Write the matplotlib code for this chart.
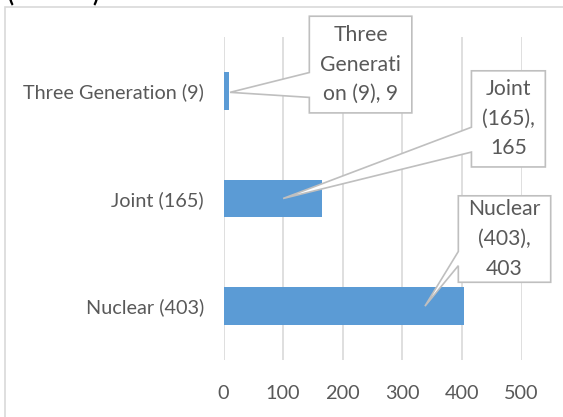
"""
Family type horizontal bar chart with callout labels
"""

import matplotlib
matplotlib.use("Agg")
import matplotlib.pyplot as plt
from matplotlib.patches import Polygon, Rectangle

# Data
categories = ['Nuclear (403)', 'Joint (165)', 'Three Generation (9)']
values = [403, 165, 9]
callout_labels = ['Nuclear\n(403),\n403', 'Joint\n(165),\n165', 'Three\nGenerati\non (9), 9']
x_ticks = [0, 100, 200, 300, 400, 500]

# Callout layout in data units: box (x0, x1, y0, y1), wedge base on left edge (yb, yt), tip (x, y)
callout_boxes = [(394, 549, 0.222, 1.025), (416, 540, 1.293, 2.186), (144, 316, 1.795, 2.693)]
callout_wedges = [(0.376, 0.508), (1.431, 1.662), (1.939, 2.170)]
callout_tips = [(338, 0.0), (100, 1.0), (11, 1.986)]

text_color = '#595959'
bar_color = '#5b9bd5'
grid_color = '#d9d9d9'
plt.rcParams['font.family'] = ['Lato', 'DejaVu Sans']

fig = plt.figure(figsize=(5.63, 4.17), dpi=100)
ax = fig.add_axes([223.5 / 563, 57 / 417, 298 / 563, 323 / 417])

# chart frame, runs off the right and bottom edges
fig.patches.append(Rectangle((4.5 / 563, -0.1), 1.2, 1 - 7 / 417 + 0.1,
                             transform=fig.transFigure, fill=False,
                             edgecolor=grid_color, linewidth=1.2))

# clipped title, only the bottoms of the brackets show
fig.text(7 / 563, 1 - 5 / 417, '(', fontsize=16, fontweight='bold', va='bottom')
fig.text(92 / 563, 1 - 5 / 417, ')', fontsize=16, fontweight='bold', va='bottom')

ax.barh(range(len(categories)), values, height=0.35, color=bar_color, zorder=2)

ax.set_xlim(0, 500)
ax.set_ylim(-0.5, 2.5)
ax.set_xticks(x_ticks)
ax.set_yticks(range(len(categories)))
ax.set_yticklabels(categories)
ax.tick_params(axis='both', length=0, labelsize=14.3, labelcolor=text_color)
ax.tick_params(axis='x', pad=18)
ax.tick_params(axis='y', pad=14)
for s in ax.spines.values():
    s.set_visible(False)
ax.xaxis.grid(True, color=grid_color, linewidth=1.2, zorder=0)
ax.set_axisbelow(True)

# callouts
for (x0, x1, y0, y1), (wb, wt), tip, label in zip(callout_boxes, callout_wedges, callout_tips, callout_labels):
    pts = [(x0, y1), (x1, y1), (x1, y0), (x0, y0), (x0, wb), tip, (x0, wt)]
    ax.add_patch(Polygon(pts, closed=True, facecolor='white', edgecolor='#bfbfbf',
                         linewidth=1.2, zorder=3, clip_on=False))
    ax.text((x0 + x1) / 2, (y0 + y1) / 2, label, ha='center', va='center',
            fontsize=15.2, color=text_color, linespacing=1.6, zorder=4, clip_on=False)

fig.savefig('out.png', dpi=100)
